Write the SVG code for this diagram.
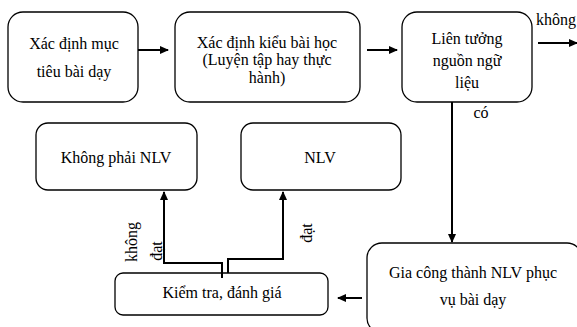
<svg xmlns="http://www.w3.org/2000/svg" width="577" height="327" viewBox="0 0 577 327" font-family="Liberation Serif, DejaVu Serif, serif">
<style>
.box{fill:#fff;stroke:#000;stroke-width:1.3}
.t{font-size:16px;fill:#000;text-anchor:middle}
.c{fill:none;stroke:#000;stroke-width:2}
</style>
<defs>
<marker id="ah" markerWidth="10" markerHeight="10" refX="8" refY="5" orient="auto" markerUnits="userSpaceOnUse" viewBox="0 0 10 10">
<path d="M0,1 L9,5 L0,9 Z" fill="#000"/>
</marker>
</defs>
<rect width="577" height="327" fill="#fff"/>
<g id="n1">
<rect class="box" x="8" y="12" width="130" height="90" rx="15"/>
<text class="t" x="74" y="49">Xác định mục</text>
<text class="t" x="74" y="77">tiêu bài dạy</text>
</g>
<g id="n2">
<rect class="box" x="175" y="12" width="185" height="90" rx="15"/>
<text class="t" x="267" y="48">Xác định kiểu bài học</text>
<text class="t" x="267" y="65">(Luyện tập hay thực</text>
<text class="t" x="267" y="83">hành)</text>
</g>
<g id="n3">
<rect class="box" x="402" y="12" width="130" height="90" rx="15"/>
<text class="t" x="467" y="44">Liên tưởng</text>
<text class="t" x="467" y="66">nguồn ngữ</text>
<text class="t" x="467" y="88">liệu</text>
</g>
<g id="n4">
<rect class="box" x="367" y="243" width="215" height="90" rx="15"/>
<text class="t" x="473" y="278">Gia công thành NLV phục</text>
<text class="t" x="473" y="305">vụ bài dạy</text>
</g>
<g id="n5">
<rect class="box" x="115" y="273" width="213" height="42" rx="8"/>
<text class="t" x="222" y="298">Kiểm tra, đánh giá</text>
</g>
<g id="n6">
<rect class="box" x="36" y="123" width="161" height="67" rx="12"/>
<text class="t" x="116" y="163">Không phải NLV</text>
</g>
<g id="n7">
<rect class="box" x="241" y="123" width="160" height="67" rx="12"/>
<text class="t" x="320" y="163">NLV</text>
</g>
<g id="connectors">
<line class="c" x1="138" y1="50" x2="168" y2="50" marker-end="url(#ah)"/>
<line class="c" x1="367" y1="50" x2="397" y2="50" marker-end="url(#ah)"/>
<line class="c" x1="538" y1="43" x2="577" y2="43" marker-end="url(#ah)"/>
<line class="c" x1="452" y1="102" x2="452" y2="242" marker-end="url(#ah)"/>
<line class="c" x1="362" y1="298" x2="338" y2="298" marker-end="url(#ah)"/>
<polyline class="c" points="222,278 222,263 164,263 164,192" marker-end="url(#ah)"/>
<polyline class="c" points="228,273 228,259 283,259 283,192" marker-end="url(#ah)"/>
<text class="t" x="556" y="25">không</text>
<text class="t" x="481" y="118">có</text>
<text class="t" transform="translate(137,242) rotate(-90)">không</text>
<text class="t" transform="translate(162,251) rotate(-90)">đạt</text>
<text class="t" transform="translate(312,233) rotate(-90)">đạt</text>
</g>
</svg>
